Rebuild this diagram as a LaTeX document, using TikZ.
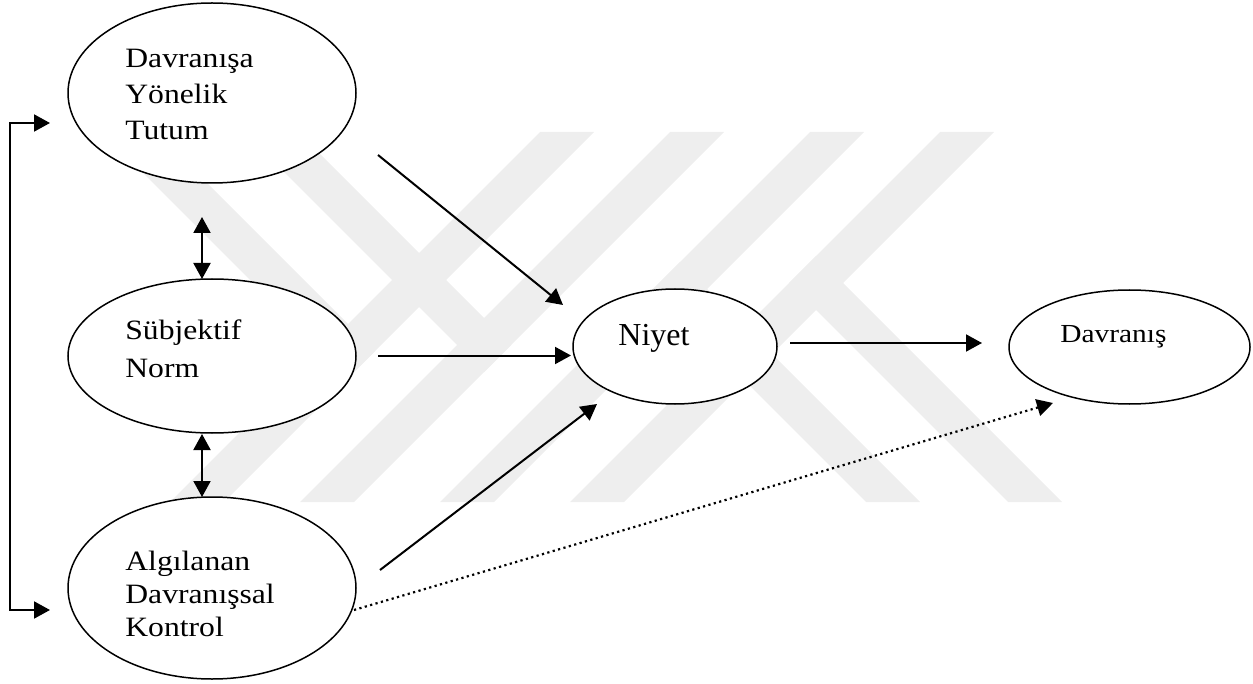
\documentclass[tikz,border=0pt]{standalone}
\usepackage{fontspec}
\setmainfont{Liberation Serif}
\newfontfamily\widefont{Liberation Serif}[FakeStretch=1.13]
\usetikzlibrary{arrows.meta,shapes.geometric}
\definecolor{markgray}{HTML}{EEEEEE}
\begin{document}
\begin{tikzpicture}[x=0.5pt, y=-0.5pt,
  oval/.style={ellipse, draw, line width=0.75pt, fill=white, inner sep=0pt, outer sep=0pt},
  lbl/.style={anchor=base west, inner sep=0pt, font=\widefont\fontsize{14pt}{18pt}\selectfont},
  arr/.style={line width=1pt, -{Triangle[length=8pt,width=8.5pt]}},
  both/.style={line width=1pt, {Triangle[length=8pt,width=8.5pt]}-{Triangle[length=8pt,width=8.5pt]}},
  dots/.style={line width=1.1pt, dash pattern=on 1.1pt off 1.7pt, -{Triangle[length=8pt,width=8.5pt]}},
  band/.style={fill=markgray, draw=none}]
\path[use as bounding box] (0,0) rectangle (1253,684);

% background emblem: slanted bands
\fill[band] (170,502) -- (224,502) -- (594,132) -- (540,132) -- cycle;
\fill[band] (300,502) -- (354,502) -- (724,132) -- (670,132) -- cycle;
\fill[band] (440,502) -- (494,502) -- (864,132) -- (810,132) -- cycle;
\fill[band] (570,502) -- (624,502) -- (994,132) -- (940,132) -- cycle;
\fill[band] (1008,502) -- (1062,502) -- (816,256) -- (789,283) -- cycle;
\fill[band] (866,502) -- (920,502) -- (680,262) -- (653,289) -- cycle;
\fill[band] (156,132) -- (102,132) -- (348,378) -- (375,351) -- cycle;
\fill[band] (298,132) -- (244,132) -- (484,372) -- (511,345) -- cycle;

% constructs
\node[oval, minimum width=144pt, minimum height=90pt] (att) at (212,93) {};
\node[oval, minimum width=144pt, minimum height=77pt] (sn) at (212,356) {};
\node[oval, minimum width=144pt, minimum height=91pt] (adk) at (212,588) {};
\node[oval, minimum width=102pt, minimum height=57.5pt] (niyet) at (675,346.5) {};
\node[oval, minimum width=120.5pt, minimum height=57pt] (dav) at (1129.5,347) {};

% labels
\node[lbl] (t1) at (125,68) {Davranışa};
\node[lbl] (t2) at (125,104) {Yönelik};
\node[lbl] (t3) at (125,140) {Tutum};
\node[lbl] (t4) at (125,340) {Sübjektif};
\node[lbl] (t5) at (125,377) {Norm};
\node[lbl] (t6) at (125,570) {Algılanan};
\node[lbl] (t7) at (125,603) {Davranışsal};
\node[lbl] (t8) at (125,636) {Kontrol};
\node[lbl, font=\rmfamily\fontsize{16pt}{18pt}\selectfont] (t9) at (618,345) {Niyet};
\node[lbl, font=\widefont\fontsize{13pt}{18pt}\selectfont] (t10) at (1060,343) {Davranış};

% paths into intention and behaviour
\draw[arr] ([shift={(166,62)}]att.center) -- ([shift={(-112,-41.5)}]niyet.center);
\draw[arr] ([shift={(166,-0.5)}]sn.center) -- ([shift={(-104,9)}]niyet.center);
\draw[arr] ([shift={(168,-18)}]adk.center) -- ([shift={(-78,57.5)}]niyet.center);
\draw[arr] ([shift={(115,-3.5)}]niyet.center) -- ([shift={(-147.5,-4)}]dav.center);
\draw[dots] ([shift={(142,22)}]adk.center) -- ([shift={(-76.5,56)}]dav.center);

% correlations between the antecedents
\draw[both] ([shift={(-10,124)}]att.center) -- ([shift={(-10,-77)}]sn.center);
\draw[both] ([shift={(-10,78)}]sn.center) -- ([shift={(-10,-91)}]adk.center);
\draw[both] ([shift={(-162,30)}]att.center) -- ++(-40,0) |- ([shift={(-162,22)}]adk.center);
\end{tikzpicture}
\end{document}
